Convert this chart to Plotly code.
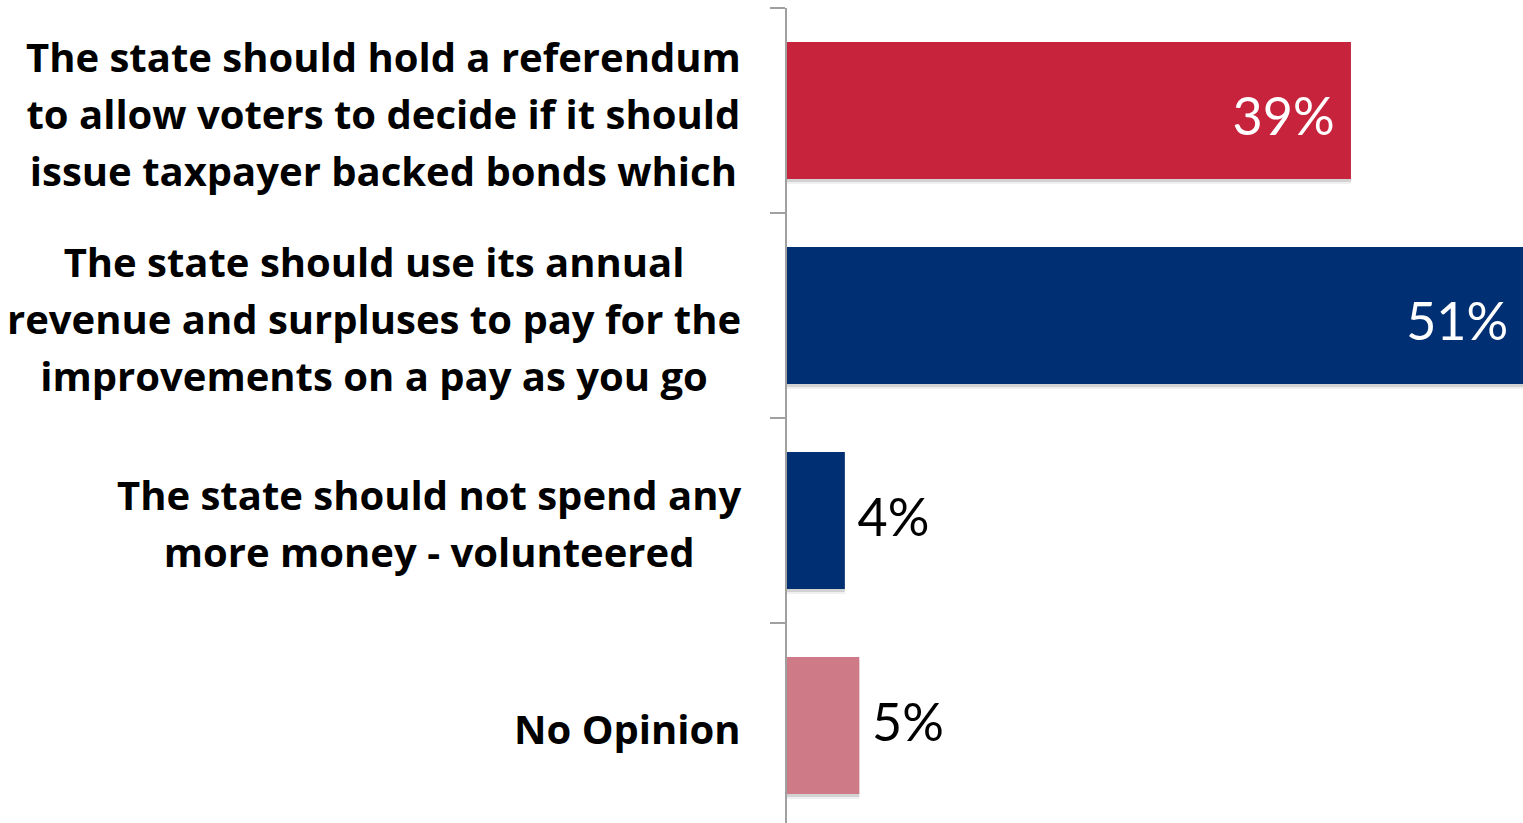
import plotly.graph_objects as go

# ---- data ----
categories = [
    "The state should hold a referendum<br>to allow voters to decide if it should<br>issue taxpayer backed bonds which",
    "The state should use its annual<br>revenue and surpluses to pay for the<br>improvements on a pay as you go",
    "The state should not spend any<br>more money - volunteered",
    "No Opinion",
]
values = [39, 51, 4, 5]
bar_colors = ["#C8233C", "#003073", "#003073", "#CF7A87"]
text_positions = ["inside", "inside", "outside", "outside"]

NB = "\u00a0"
labels = []
for v, pos in zip(values, text_positions):
    if pos == "inside":
        labels.append(f"{v}%" + NB)
    else:
        labels.append("\u2009\u200a" + f"{v}%")

VAL_FONT = "Lato"
CAT_FONT = "Open Sans"
AX_COLOR = "#A0A0A0"
BAR_W = 0.668
PX = 1 / 205.0  # one pixel in category units

fig = go.Figure()

# soft drop shadow under bars
for dy, alpha in [(5, 0.06), (3, 0.12)]:
    fig.add_trace(go.Bar(
        x=values, y=categories, orientation="h",
        width=BAR_W, offset=-BAR_W / 2 + dy * PX,
        marker=dict(color=f"rgba(0,0,0,{alpha})", line=dict(width=0)),
        hoverinfo="skip",
    ))

# main bars
fig.add_trace(go.Bar(
    x=values, y=categories, orientation="h",
    width=BAR_W, offset=-BAR_W / 2,
    marker=dict(color=bar_colors, line=dict(width=0)),
    hoverinfo="skip",
))

# value labels (transparent carrier bars, nudged vertically)
label_offsets = [(5 if p == "inside" else -4) * PX for p in text_positions]
fig.add_trace(go.Bar(
    x=values, y=categories, orientation="h",
    width=BAR_W, offset=[-BAR_W / 2 + o for o in label_offsets],
    marker=dict(color="rgba(0,0,0,0)", line=dict(width=0)),
    text=labels,
    textposition=text_positions,
    insidetextanchor="end",
    insidetextfont=dict(family=VAL_FONT, size=52, color="white"),
    outsidetextfont=dict(family=VAL_FONT, size=52, color="black"),
    constraintext="none",
    cliponaxis=True,
    hoverinfo="skip",
))

# category labels: one annotation per category, lines centred, block right-aligned
for cat in categories:
    lines = cat.split("<br>")
    txt = "<br>".join(f'<span style="font-size:40px">{ln}</span>' for ln in lines)
    fig.add_annotation(
        xref="paper", yref="y", x=0, y=cat,
        text=txt, showarrow=False,
        xanchor="right", yanchor="middle", align="center",
        xshift=-44, yshift=-3,
        font=dict(family=CAT_FONT, size=44, color="black", weight="bold"),
    )

fig.update_layout(
    width=1523, height=823,
    margin=dict(l=787, r=0, t=8, b=0),
    paper_bgcolor="white", plot_bgcolor="white",
    barmode="overlay",
    showlegend=False,
    hovermode=False,
    xaxis=dict(range=[0, 50.9], visible=False, fixedrange=True),
    yaxis=dict(
        type="category",
        categoryorder="array", categoryarray=categories,
        range=[3.476, -0.5],
        showticklabels=False,
        ticks="outside", tickson="boundaries", ticklen=15,
        tickwidth=2, tickcolor=AX_COLOR,
        showline=True, linecolor=AX_COLOR, linewidth=2,
        showgrid=False, zeroline=False, fixedrange=True,
    ),
)

fig.write_html(
    "out.html",
    config={"displayModeBar": False, "staticPlot": True},
    post_script="document.body.style.margin='0';document.body.style.overflow='hidden';",
)
